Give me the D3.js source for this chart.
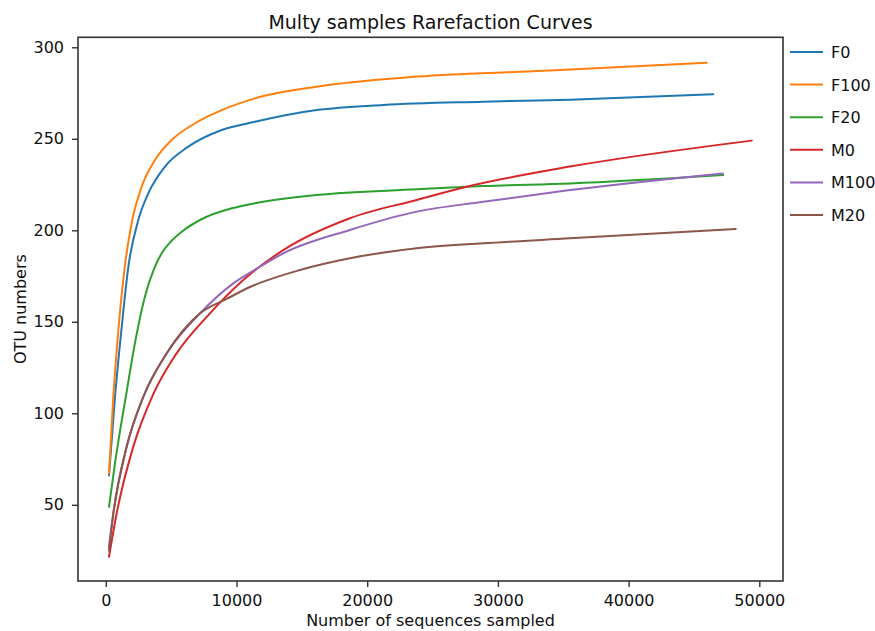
<!DOCTYPE html>
<html>
<head>
<meta charset="utf-8">
<script src="https://cdn.jsdelivr.net/npm/d3@7"></script>
<style>
  body { margin: 0; background: #fff; }
  text { font-family: "DejaVu Sans", sans-serif; fill: #111; }
</style>
</head>
<body>
<svg id="chart" width="875" height="631"></svg>
<script>
const seriesNames = ["F0", "F100", "F20", "M0", "M100", "M20"];
const seriesColors = ["#1f77b4", "#ff7f0e", "#2ca02c", "#d62728", "#9467bd", "#8c564b"];

const seqF0   = [245, 704, 1216, 1724, 2487, 3252, 4530, 6312, 8868, 11415, 16135, 21230, 28880, 35515, 46480];
const otuF0   = [66, 109, 147, 180, 205.6, 220.2, 234.8, 245.7, 254.8, 259.3, 265.7, 268.5, 270.3, 271.4, 274.3];

const seqF100 = [245, 574, 956, 1469, 1980, 2747, 3764, 5040, 6825, 8868, 11415, 16135, 23790, 33985, 45975];
const otuF100 = [67, 109, 145, 181, 204, 223.8, 238.4, 249.3, 258.5, 265.7, 272.1, 278.5, 284, 287.3, 291.6];

const seqF20  = [245, 704, 1600, 2300, 3000, 3700, 4277, 5000, 5807, 7590, 9633, 11415, 16135, 23790, 28880, 35515, 47245];
const otuF20  = [48.9, 72.7, 112, 141, 164, 179, 187.5, 194, 199.2, 207, 212, 214.8, 219.3, 222.4, 224.2, 225.6, 230.2];

const seqM0   = [245, 834, 2104, 3635, 5295, 7970, 10520, 13580, 18680, 23790, 27610, 35515, 49420];
const otuM0   = [21.6, 45.4, 81.8, 110.5, 131.5, 154.6, 172.8, 189.2, 206.6, 216.6, 223.8, 234.8, 249];

const seqM100 = [245, 574, 1600, 2870, 4660, 7207, 9755, 11800, 13580, 18680, 23790, 28880, 35515, 47200];
const otuM100 = [27, 45.4, 81.8, 109, 132.8, 154.6, 171, 180.1, 187.4, 200.2, 210.2, 215.6, 222, 231.1];

const seqM20  = [245, 574, 1600, 2870, 4660, 7207, 9250, 11030, 14860, 18680, 23790, 28880, 35515, 48195];
const otuM20  = [25, 45, 81.8, 109, 132.8, 154.6, 162.5, 169, 178.3, 184.7, 190.2, 192.9, 195.6, 200.7];

const xTicks = [0, 10000, 20000, 30000, 40000, 50000];
const yTicks = [50, 100, 150, 200, 250, 300];

const chartTitle = "Multy samples Rarefaction Curves";
const xLabel = "Number of sequences sampled";
const yLabel = "OTU numbers";

const seqs = [seqF0, seqF100, seqF20, seqM0, seqM100, seqM20];
const otus = [otuF0, otuF100, otuF20, otuM0, otuM100, otuM20];
const series = seriesNames.map((n, i) => ({
  name: n, color: seriesColors[i],
  points: seqs[i].map((s, j) => [s, otus[i][j]])
}));

const svg = d3.select("#chart");
const L = 78, R = 783, T = 37.3, B = 581;

const x = d3.scaleLinear().domain([-2127, 51813]).range([L, R]);
const y = d3.scaleLinear().domain([8.36, 305.46]).range([B, T]);

const line = d3.line()
  .x(d => x(d[0])).y(d => y(d[1]))
  .curve(d3.curveMonotoneX);

const g = svg.append("g");
g.selectAll("path.series")
  .data(series)
  .enter().append("path")
  .attr("class", "series")
  .attr("d", d => line(d.points))
  .attr("fill", "none")
  .attr("stroke", d => d.color)
  .attr("stroke-width", 2)
  .attr("stroke-linejoin", "round")
  .attr("stroke-linecap", "round");

// frame
svg.append("rect")
  .attr("x", L).attr("y", T).attr("width", R - L).attr("height", B - T)
  .attr("fill", "none").attr("stroke", "#333").attr("stroke-width", 1.6);

const xAxis = svg.append("g")
  .attr("transform", `translate(0,${B})`)
  .call(d3.axisBottom(x).tickValues(xTicks).tickFormat(d3.format("d")).tickSize(6).tickPadding(8));
const yAxis = svg.append("g")
  .attr("transform", `translate(${L},0)`)
  .call(d3.axisLeft(y).tickValues(yTicks).tickFormat(d3.format("d")).tickSize(6).tickPadding(8));

[xAxis, yAxis].forEach(a => {
  a.select(".domain").remove();
  a.selectAll(".tick line").attr("stroke", "#333").attr("stroke-width", 1.4);
  a.selectAll(".tick text")
    .style("font-family", "'DejaVu Sans', sans-serif")
    .style("font-size", "16px")
    .attr("fill", "#111");
});

svg.append("text")
  .attr("x", (L + R) / 2).attr("y", 29)
  .attr("text-anchor", "middle")
  .style("font-size", "19px")
  .text(chartTitle);

svg.append("text")
  .attr("x", (L + R) / 2).attr("y", 626)
  .attr("text-anchor", "middle")
  .style("font-size", "16px")
  .text(xLabel);

svg.append("text")
  .attr("transform", `translate(26,${(T + B) / 2}) rotate(-90)`)
  .attr("text-anchor", "middle")
  .style("font-size", "16px")
  .text(yLabel);

// legend
const leg = svg.append("g").attr("class", "legend");
series.forEach((s, i) => {
  const yy = 52 + i * 32.6;
  leg.append("line")
    .attr("x1", 790).attr("x2", 823).attr("y1", yy).attr("y2", yy)
    .attr("stroke", s.color).attr("stroke-width", 2);
  leg.append("text")
    .attr("x", 831).attr("y", yy + 6)
    .style("font-size", "16px")
    .text(s.name);
});
</script>
</body>
</html>
